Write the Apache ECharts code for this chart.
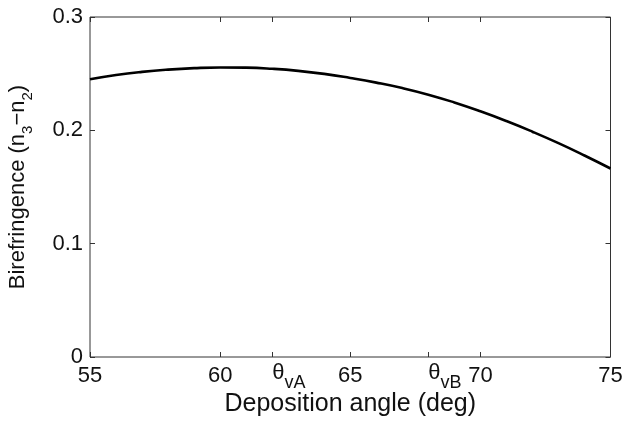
<!DOCTYPE html>
<html>
<head>
<meta charset="utf-8">
<script src="https://cdn.jsdelivr.net/npm/echarts@6/dist/echarts.min.js"></script>
<style>
  html, body { margin: 0; padding: 0; background: #fff; }
  #chart { width: 628px; height: 421px; }
</style>
</head>
<body>
<div id="chart"></div>
<script>
// deposition angle (deg) and birefringence n3-n2
const angles = [55, 56, 57, 58, 59, 60, 61, 62, 63, 64, 65, 66, 67, 68, 69, 70, 71, 72, 73, 74, 75];
const birefringence = [0.2450, 0.2488, 0.2516, 0.2536, 0.2549, 0.2555, 0.2553, 0.2543, 0.2525, 0.2498,
  0.2462, 0.2421, 0.2373, 0.2315, 0.2246, 0.2168, 0.2082, 0.1988, 0.1887, 0.1778, 0.1663];

const xTicks = [55, 60, 65, 70, 75];
const thetaTicks = [62, 68];           // θvA, θvB
const thetaNames = { 62: 'vA', 68: 'vB' };
const yTicks = [0, 0.1, 0.2, 0.3];

const FONT = 'Liberation Sans';
const AXIS_COLOR = '#333';

const chart = echarts.init(document.getElementById('chart'), null, { renderer: 'canvas' });

const baseX = {
  type: 'value', min: 55, max: 75,
  splitLine: { show: false },
  axisLine: { show: false },
  axisTick: { show: false },
  axisLabel: { show: false }
};
const baseY = {
  type: 'value', min: 0, max: 0.3, interval: 0.1,
  splitLine: { show: false },
  axisLine: { show: false },
  axisTick: { show: false },
  axisLabel: { show: false }
};

chart.setOption({
  animation: false,
  backgroundColor: '#fff',
  grid: {
    left: 90, right: 17.5, top: 17, bottom: 64,
    outerBoundsMode: 'none', containLabel: false,
    show: true, borderColor: AXIS_COLOR, borderWidth: 1
  },
  xAxis: [
    {
      ...baseX, position: 'bottom',
      name: 'Deposition angle (deg)', nameLocation: 'middle', nameGap: 33,
      nameTextStyle: { fontFamily: FONT, fontSize: 25, color: '#111' },
      axisTick: { show: true, inside: true, length: 5, customValues: xTicks.concat(thetaTicks), lineStyle: { color: AXIS_COLOR } },
      axisLabel: { show: true, customValues: xTicks, margin: 8, fontFamily: FONT, fontSize: 22, color: '#111' }
    },
    {
      ...baseX, position: 'bottom',
      axisLabel: {
        show: true, customValues: thetaTicks, margin: 5, align: 'left',
        formatter: v => '{t|θ}{s|' + thetaNames[v] + '}',
        rich: {
          t: { fontFamily: FONT, fontSize: 22, color: '#111', lineHeight: 30, verticalAlign: 'top' },
          s: { fontFamily: FONT, fontSize: 18, color: '#111', lineHeight: 30, verticalAlign: 'bottom' }
        }
      }
    },
    {
      ...baseX, position: 'top',
      axisTick: { show: true, inside: true, length: 5, customValues: xTicks.concat(thetaTicks), lineStyle: { color: AXIS_COLOR } }
    }
  ],
  yAxis: [
    {
      ...baseY, position: 'left',
      name: '{n|Birefringence (n}{s|3}{n|−n}{s|2}{n|)}', nameLocation: 'middle', nameGap: 55,
      nameTextStyle: {
        rich: {
          n: { fontFamily: FONT, fontSize: 22, color: '#111', lineHeight: 28, verticalAlign: 'top' },
          s: { fontFamily: FONT, fontSize: 15, color: '#111', lineHeight: 28, verticalAlign: 'bottom' }
        }
      },
      axisTick: { show: true, inside: true, length: 5, customValues: yTicks, lineStyle: { color: AXIS_COLOR } },
      axisLabel: { show: true, customValues: yTicks, margin: 7, fontFamily: FONT, fontSize: 22, color: '#111' }
    },
    {
      ...baseY, position: 'right',
      axisTick: { show: true, inside: true, length: 5, customValues: yTicks, lineStyle: { color: AXIS_COLOR } }
    }
  ],
  series: [{
    type: 'line',
    data: angles.map((a, i) => [a, birefringence[i]]),
    smooth: true,
    showSymbol: false,
    lineStyle: { color: '#000', width: 2.6 }
  }]
});
</script>
</body>
</html>
